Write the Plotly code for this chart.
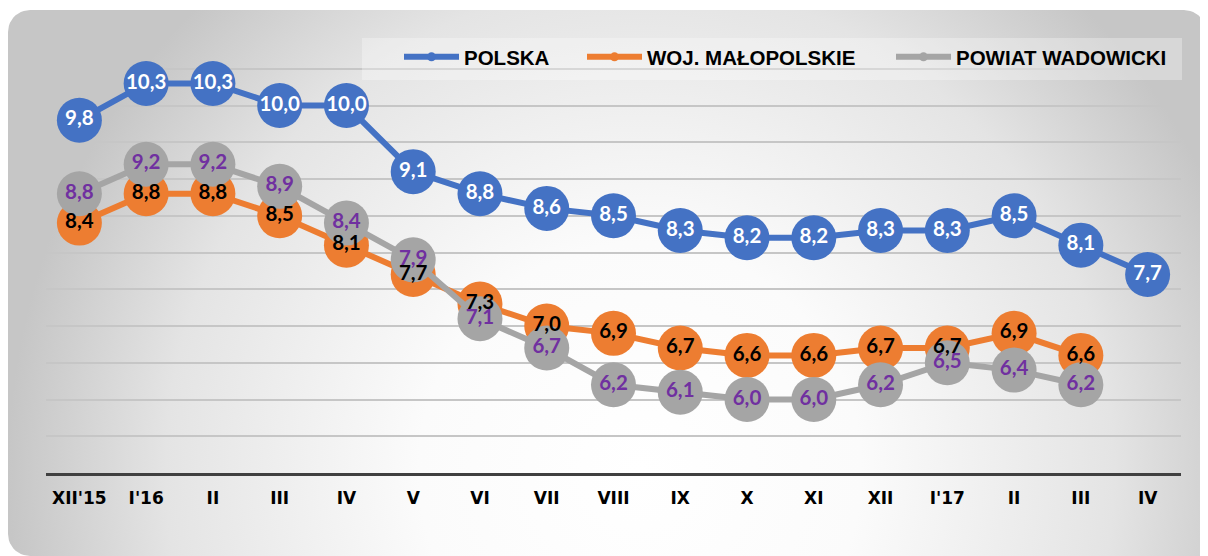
import numpy as np
import plotly.graph_objects as go

# ---------------- data ----------------
categories = ["XII'15", "I'16", "II", "III", "IV", "V", "VI", "VII", "VIII",
              "IX", "X", "XI", "XII", "I'17", "II", "III", "IV"]
polska = [9.8, 10.3, 10.3, 10.0, 10.0, 9.1, 8.8, 8.6, 8.5, 8.3, 8.2, 8.2,
          8.3, 8.3, 8.5, 8.1, 7.7]
malopolskie = [8.4, 8.8, 8.8, 8.5, 8.1, 7.7, 7.3, 7.0, 6.9, 6.7, 6.6, 6.6,
               6.7, 6.7, 6.9, 6.6, None]
wadowicki = [8.8, 9.2, 9.2, 8.9, 8.4, 7.9, 7.1, 6.7, 6.2, 6.1, 6.0, 6.0,
             6.2, 6.5, 6.4, 6.2, None]
series_names = ["POLSKA", "WOJ. MAŁOPOLSKIE", "POWIAT WADOWICKI"]
series_values = [polska, malopolskie, wadowicki]
y_min, y_max, y_step = 5, 11, 0.5

# ---------------- styles ----------------
OFF = 8                      # page body margin
W, H = 1208 - OFF, 556 - OFF
line_colors = ["#4472C4", "#ED7D31", "#A5A5A5"]
label_colors = ["#FFFFFF", "#000000", "#7030A0"]
legend_line_x = [404, 587, 896]   # page px where each legend sample starts
x_idx = list(range(len(categories)))


def fmt(v):
    return "" if v is None else f"{v:.1f}".replace(".", ",")


def fx(px_):   # page pixel -> paper x
    return (px_ - OFF) / W


def fy(py_):   # page pixel -> paper y
    return 1 - (py_ - OFF) / H


fig = go.Figure()

# ---- background rounded panel with radial gradient (pixel subplot) ----
r = 22
L, T, R, B = 8 - OFF, 10 - OFF, 1206 - OFF, 556 - OFF
# gradient bounding box (zero-area spikes extend the bbox)
gcx, gcy, ghw, ghh = 632, 462, 632, 650
gx0, gy0, gx1, gy1 = gcx - ghw, gcy - ghh, gcx + ghw, gcy + ghh


def arc(cx, cy, a0, a1, n=12):
    t = np.linspace(a0, a1, n)
    return list(cx + r * np.cos(t)), list(cy + r * np.sin(t))


px, py = [], []
a, b = arc(L + r, T + r, np.pi, 1.5 * np.pi)
px += a; py += b
px += [px[-1], gx0, px[-1]]; py += [py[-1], gy0, py[-1]]
a, b = arc(R - r, T + r, 1.5 * np.pi, 2 * np.pi)
px += a; py += b
px += [R, gx1, R]; py += [B + 4, gy1, B + 4]
a, b = arc(L + r, B - r, 0.5 * np.pi, np.pi)
px += a; py += b
px += [px[0]]; py += [py[0]]

fig.add_trace(go.Scatter(
    x=px, y=py, mode="lines", fill="toself", line=dict(width=0),
    fillgradient=dict(type="radial",
                      colorscale=[[0, "#ffffff"], [0.35, "#fbfbfb"],
                                  [0.75, "#e4e4e4"], [1, "#c6c6c6"]]),
    hoverinfo="skip", showlegend=False, xaxis="x", yaxis="y"))

# ---- series lines + markers ----
for name, vals, lc in zip(series_names, series_values, line_colors):
    fig.add_trace(go.Scatter(
        x=x_idx, y=vals, mode="lines+markers", name=name,
        line=dict(color=lc, width=6),
        marker=dict(size=45, color=lc),
        showlegend=False, cliponaxis=False, hoverinfo="skip",
        xaxis="x2", yaxis="y2"))

# ---- data labels on top of all markers ----
for vals, tc in zip(series_values, label_colors):
    fig.add_trace(go.Scatter(
        x=x_idx, y=vals, mode="text", text=[fmt(v) for v in vals],
        textposition="middle center",
        textfont=dict(family="Lato", size=20.5, color=tc, weight="bold"),
        showlegend=False, cliponaxis=False, hoverinfo="skip",
        xaxis="x2", yaxis="y2"))

# ---- legend entries (one legend each, placed like the original) ----
legend_ids = ["legend", "legend2", "legend3"]
for name, lc, lid in zip(series_names, line_colors, legend_ids):
    fig.add_trace(go.Scatter(
        x=[None], y=[None], mode="lines+markers", name=name,
        line=dict(color=lc, width=6), marker=dict(size=9, color=lc),
        legend=lid, xaxis="x2", yaxis="y2"))

legend_font = dict(family="Liberation Sans", size=20.5, color="black",
                   weight="bold")
legend_layouts = {}
for lid, lx in zip(legend_ids, legend_line_x):
    legend_layouts[lid] = dict(
        orientation="h", x=fx(lx - 5), xanchor="left",
        y=fy(57), yanchor="middle", bgcolor="rgba(0,0,0,0)",
        font=legend_font, itemwidth=55)

fig.update_layout(
    width=W, height=H,
    margin=dict(l=0, r=0, t=0, b=0),
    paper_bgcolor="white", plot_bgcolor="rgba(0,0,0,0)",
    showlegend=True,
    xaxis=dict(domain=[0, 1], range=[0, W], visible=False, fixedrange=True),
    yaxis=dict(domain=[0, 1], range=[H, 0], visible=False, fixedrange=True),
    xaxis2=dict(domain=[fx(46), fx(1181)], range=[-0.5, len(categories) - 0.5],
                anchor="y2", tickmode="array", tickvals=x_idx, ticktext=categories,
                showgrid=False, zeroline=False, showline=True,
                linecolor="#404040", linewidth=3, ticks="",
                ticklabelstandoff=8,
                tickfont=dict(family="DejaVu Sans", size=17, color="black",
                              weight="bold")),
    yaxis2=dict(domain=[fy(473), fy(32)], range=[y_min, y_max],
                anchor="x2", tick0=y_min, dtick=y_step, showgrid=True,
                gridcolor="#c6c6c6", gridwidth=1.5, zeroline=False,
                showticklabels=False, showline=False),
    shapes=[dict(type="rect", xref="paper", yref="paper",
                 x0=fx(362), x1=fx(1182), y0=fy(80), y1=fy(38),
                 fillcolor="rgba(255,255,255,0.3)", line=dict(width=0),
                 layer="above")],
    **legend_layouts,
)

fig.write_html("out.html")
